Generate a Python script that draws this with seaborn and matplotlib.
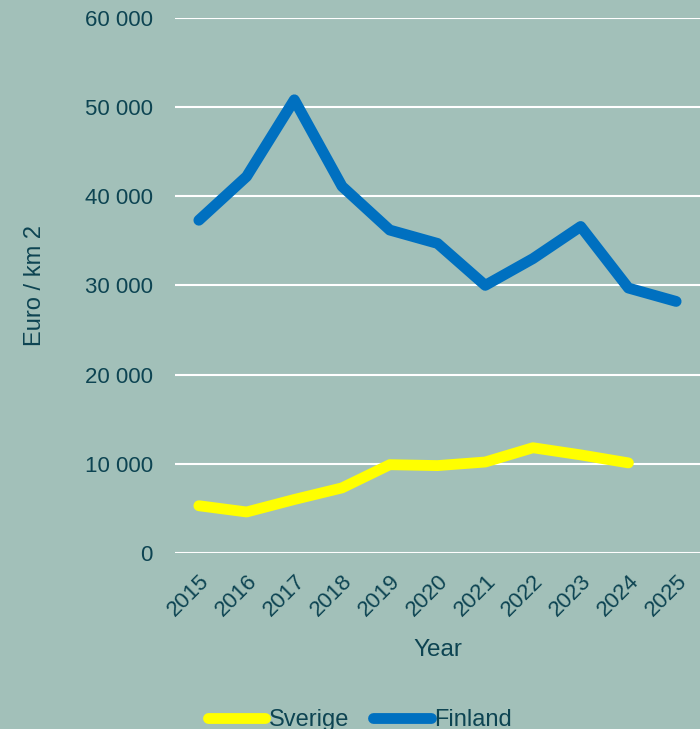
import numpy as np
import pandas as pd
import matplotlib
matplotlib.use("Agg")
import matplotlib.pyplot as plt
import seaborn as sns
from matplotlib.ticker import FuncFormatter
from matplotlib.lines import Line2D

years = ["2015", "2016", "2017", "2018", "2019", "2020", "2021", "2022", "2023", "2024", "2025"]
sverige = [5300, 4600, 6000, 7300, 9900, 9800, 10200, 11800, 11000, 10100, np.nan]
finland = [37300, 42200, 50800, 41100, 36200, 34700, 30000, 33000, 36600, 29700, 28200]
series_names = ["Sverige", "Finland"]
yticks = [0, 10000, 20000, 30000, 40000, 50000, 60000]

bg = "#A2C0B9"
txt = "#0D4452"
colors = {"Sverige": "#FFFF00", "Finland": "#0070C0"}

df = pd.DataFrame({
    "Year": years * 2,
    "Value": sverige + finland,
    "Series": [series_names[0]] * len(years) + [series_names[1]] * len(years),
})
df["x"] = list(range(len(years))) * 2

sns.set_theme(style="white")
plt.rcParams["font.family"] = ["Liberation Sans", "DejaVu Sans"]

fig = plt.figure(figsize=(7.0, 7.29), dpi=100, facecolor=bg)
ax = fig.add_axes([0.25, 0.2414, 0.75, 0.7343])
ax.set_facecolor(bg)

sns.lineplot(data=df, x="x", y="Value", hue="Series", palette=colors,
             linewidth=7.8, ax=ax, legend=False, sort=False)
for l in ax.get_lines():
    l.set_solid_capstyle("round")
    l.set_solid_joinstyle("round")

ax.set_xlim(-0.5, len(years) - 0.5)
ax.set_ylim(0, 60000)
ax.set_yticks(yticks)
ax.yaxis.set_major_formatter(FuncFormatter(lambda v, p: f"{int(v):,}".replace(",", " ")))
ax.set_xticks(range(len(years)))
ax.set_xticklabels(years, rotation=45, ha="right", rotation_mode="anchor")
ax.grid(axis="y", color="white", linewidth=1.5)
ax.set_axisbelow(True)
for s in ax.spines.values():
    s.set_visible(False)
ax.tick_params(axis="y", length=0, pad=16, labelsize=16, labelcolor=txt)
ax.tick_params(axis="x", length=0, pad=13, labelsize=16, labelcolor=txt)
ax.set_xlabel("Year", fontsize=17.5, color=txt, labelpad=13)
ax.set_ylabel("Euro / km 2", fontsize=17, color=txt, labelpad=28)

handles = [Line2D([0], [0], color=colors[n], linewidth=7.8, solid_capstyle="round") for n in series_names]
leg = fig.legend(handles, series_names, loc="center", bbox_to_anchor=(0.514, 0.012),
                 ncol=2, frameon=False, fontsize=17, handlelength=2.45,
                 handletextpad=0.15, columnspacing=1.0)
for t in leg.get_texts():
    t.set_color(txt)

fig.savefig("out.png", dpi=100, facecolor=bg)
